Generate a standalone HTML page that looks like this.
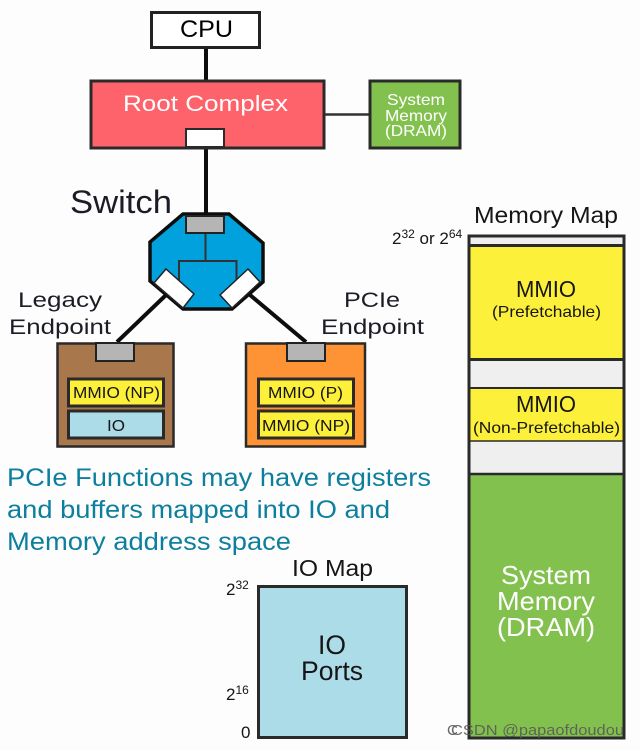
<!DOCTYPE html>
<html>
<head>
<meta charset="utf-8">
<style>
html,body{margin:0;padding:0;background:#fdfdfd;width:640px;height:750px;overflow:hidden}
svg{display:block}
text{font-family:"Liberation Sans",sans-serif;fill:#151515;text-anchor:start}
</style>
</head>
<body>
<svg width="640" height="750" viewBox="0 0 640 750" xmlns="http://www.w3.org/2000/svg">
<defs><filter id="b" x="-2%" y="-2%" width="104%" height="104%"><feGaussianBlur stdDeviation="0.3"/></filter></defs>
<rect width="640" height="750" fill="#fdfdfd"/>
<g filter="url(#b)">
<!-- connectors -->
<g stroke="#111" fill="none">
<path d="M206 48V80" stroke-width="4"/>
<path d="M206 148V214" stroke-width="4"/>
<path d="M324 114.500H370" stroke-width="2.500" stroke="#333"/>
<path d="M166 295L117 342" stroke-width="4"/>
<path d="M250 295L306 342" stroke-width="4"/>
</g>
<!-- CPU -->
<rect x="151.500" y="12.500" width="108" height="35" fill="#fff" stroke="#222" stroke-width="3"/>
<text x="180" y="37" font-size="24" textLength="53" lengthAdjust="spacingAndGlyphs" style="fill:#000">CPU</text>
<!-- Root complex -->
<rect x="91" y="81" width="233" height="67" fill="#fe626a" stroke="#2b2b2b" stroke-width="3"/>
<text x="123" y="111" font-size="22" textLength="165" lengthAdjust="spacingAndGlyphs" style="fill:#fff">Root Complex</text>
<rect x="186" y="129" width="38" height="18" fill="#fff" stroke="#2b2b2b" stroke-width="2"/>
<!-- System memory -->
<rect x="370" y="81" width="90" height="67" fill="#83c14f" stroke="#2b2b2b" stroke-width="3"/>
<g font-size="16">
<text x="387" y="105" textLength="58" lengthAdjust="spacingAndGlyphs" style="fill:#fff">System</text>
<text x="385" y="121" textLength="62" lengthAdjust="spacingAndGlyphs" style="fill:#fff">Memory</text>
<text x="385" y="136" textLength="62" lengthAdjust="spacingAndGlyphs" style="fill:#fff">(DRAM)</text>
</g>
<!-- Switch -->
<text x="70" y="213" font-size="32" textLength="102" lengthAdjust="spacingAndGlyphs" style="fill:#1f1f28">Switch</text>
<polygon points="183,214 229,214 263,243 263,282 232,309 183,309 150,281 150,242" fill="#00a1dc" stroke="#111" stroke-width="3.500"/>
<path d="M205.500 233V261M179 281V261H236.500V281" fill="none" stroke="#333" stroke-width="2"/>
<rect x="186" y="216" width="38" height="17" fill="#b5b5b5" stroke="#222" stroke-width="2"/>
<polygon points="166,269 194,294 183,308 154,283" fill="#fff" stroke="#222" stroke-width="1.500"/>
<polygon points="248,269 260,282 232,308 220,295" fill="#fff" stroke="#222" stroke-width="1.500"/>
<!-- Endpoint labels -->
<g font-size="21">
<text x="18" y="307" textLength="84" lengthAdjust="spacingAndGlyphs" style="fill:#1f1f28">Legacy</text>
<text x="9" y="334" textLength="102" lengthAdjust="spacingAndGlyphs" style="fill:#1f1f28">Endpoint</text>
<text x="344" y="307" textLength="56" lengthAdjust="spacingAndGlyphs" style="fill:#1f1f28">PCIe</text>
<text x="321" y="334" textLength="103" lengthAdjust="spacingAndGlyphs" style="fill:#1f1f28">Endpoint</text>
</g>
<!-- Legacy endpoint -->
<rect x="57.500" y="343.500" width="116" height="103" fill="#a8774c" stroke="#2b2b2b" stroke-width="2.500"/>
<rect x="96" y="343" width="38" height="18" fill="#b5b5b5" stroke="#222" stroke-width="2"/>
<rect x="68.500" y="379" width="95" height="27" fill="#fdf03a" stroke="#2b2b2b" stroke-width="3"/>
<rect x="68.500" y="411" width="95" height="27" fill="#acdce8" stroke="#2b2b2b" stroke-width="3"/>
<text x="73" y="398" font-size="16" textLength="87" lengthAdjust="spacingAndGlyphs">MMIO (NP)</text>
<text x="107" y="431" font-size="16" textLength="18" lengthAdjust="spacingAndGlyphs">IO</text>
<!-- PCIe endpoint -->
<rect x="246" y="343.500" width="119" height="103" fill="#fd9334" stroke="#2b2b2b" stroke-width="2.500"/>
<rect x="287" y="343" width="38" height="18" fill="#b5b5b5" stroke="#222" stroke-width="2"/>
<rect x="258.500" y="379" width="95" height="27" fill="#fdf03a" stroke="#2b2b2b" stroke-width="3"/>
<rect x="258.500" y="411" width="95" height="27" fill="#fdf03a" stroke="#2b2b2b" stroke-width="3"/>
<text x="268" y="398" font-size="16" textLength="75" lengthAdjust="spacingAndGlyphs">MMIO (P)</text>
<text x="262" y="431" font-size="16" textLength="88" lengthAdjust="spacingAndGlyphs">MMIO (NP)</text>
<!-- Paragraph -->
<g font-size="25">
<text x="7" y="486" textLength="424" lengthAdjust="spacingAndGlyphs" style="fill:#0f7f9e">PCIe Functions may have registers</text>
<text x="7" y="518" textLength="383" lengthAdjust="spacingAndGlyphs" style="fill:#0f7f9e">and buffers mapped into IO and</text>
<text x="7" y="550" textLength="284" lengthAdjust="spacingAndGlyphs" style="fill:#0f7f9e">Memory address space</text>
</g>
<!-- Memory map -->
<text x="474" y="223" font-size="23" textLength="144" lengthAdjust="spacingAndGlyphs">Memory Map</text>
<text x="392" y="244" font-size="17">2<tspan font-size="12" dy="-6">32</tspan><tspan dy="6"> or 2</tspan><tspan font-size="12" dy="-6">64</tspan></text>
<rect x="469" y="236" width="155" height="502" fill="#83c14f" stroke="#2b2b2b" stroke-width="3"/>
<rect x="470.500" y="237.500" width="152" height="8" fill="#efefef"/>
<rect x="470.500" y="246" width="152" height="113" fill="#fdf03a"/>
<rect x="470.500" y="360" width="152" height="28" fill="#efefef"/>
<rect x="470.500" y="388" width="152" height="53" fill="#fdf03a"/>
<rect x="470.500" y="441" width="152" height="33" fill="#efefef"/>
<g stroke="#2b2b2b" fill="none">
<path d="M469 245.500H624" stroke-width="3"/>
<path d="M469 359.500H624" stroke-width="3"/>
<path d="M469 388H624" stroke-width="2"/>
<path d="M469 441H624" stroke-width="1.500"/>
<path d="M469 474H624" stroke-width="2.500"/>
</g>
<text x="516" y="297" font-size="23" textLength="60" lengthAdjust="spacingAndGlyphs">MMIO</text>
<text x="492" y="317" font-size="16" textLength="109" lengthAdjust="spacingAndGlyphs">(Prefetchable)</text>
<text x="516" y="412" font-size="23" textLength="60" lengthAdjust="spacingAndGlyphs">MMIO</text>
<text x="473" y="433" font-size="16" textLength="147" lengthAdjust="spacingAndGlyphs">(Non-Prefetchable)</text>
<g font-size="26">
<text x="501" y="584" textLength="90" lengthAdjust="spacingAndGlyphs" style="fill:#fff">System</text>
<text x="497" y="610" textLength="98" lengthAdjust="spacingAndGlyphs" style="fill:#fff">Memory</text>
<text x="497" y="636" textLength="98" lengthAdjust="spacingAndGlyphs" style="fill:#fff">(DRAM)</text>
</g>
<!-- IO map -->
<text x="292" y="576" font-size="23" textLength="81" lengthAdjust="spacingAndGlyphs">IO Map</text>
<rect x="258.500" y="586.500" width="148" height="151" fill="#acdce8" stroke="#2b2b2b" stroke-width="3"/>
<text x="318" y="654" font-size="27" textLength="28" lengthAdjust="spacingAndGlyphs">IO</text>
<text x="301" y="680" font-size="27" textLength="62" lengthAdjust="spacingAndGlyphs">Ports</text>
<text x="226" y="595" font-size="17">2<tspan font-size="12" dy="-6">32</tspan></text>
<text x="226" y="700" font-size="17">2<tspan font-size="12" dy="-6">16</tspan></text>
<text x="241" y="738" font-size="17">0</text>
<!-- Watermark -->
<text x="447" y="735" font-size="15" style="fill:#666">C</text>
<text x="451" y="735" font-size="15" textLength="173" lengthAdjust="spacingAndGlyphs" style="fill:#5a5a5a;fill-opacity:.9">CSDN @papaofdoudou</text>
</g>
</svg>
</body>
</html>
